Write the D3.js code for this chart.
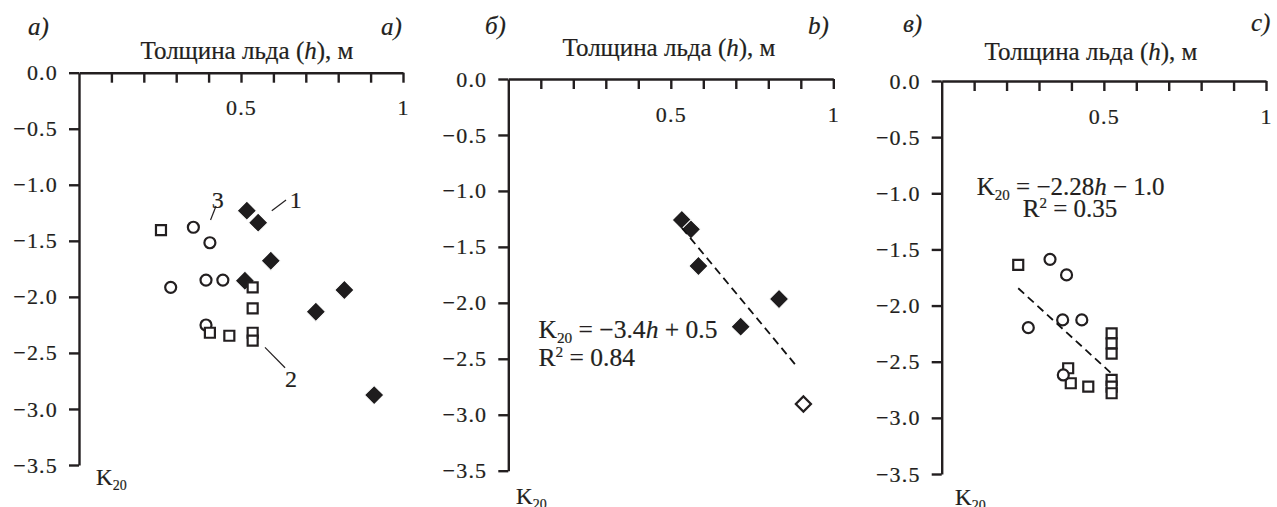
<!DOCTYPE html>
<html><head><meta charset="utf-8">
<script src="https://cdn.jsdelivr.net/npm/d3@7"></script>
<style>
html,body{margin:0;padding:0;background:#fff;}
svg text{font-family:"Liberation Serif","Times New Roman",serif;fill:#231f20;stroke:#231f20;stroke-width:0.2px;}
</style></head>
<body><svg id="c" width="1277" height="507"></svg>
<script>
// ---- data ----
const hTicks = [0.1,0.2,0.3,0.4,0.5,0.6,0.7,0.8,0.9,1.0];
const hLabels = [0.5, 1];
const kTicks = [0,-0.5,-1.0,-1.5,-2.0,-2.5,-3.0,-3.5];
const panelLeft = ["а)","б)","в)"];
const panelRight = ["a)","b)","c)"];

// panel a
const a1H = [0.518,0.553,0.592,0.512,0.819,0.731,0.911];
const a1K = [-1.231,-1.338,-1.678,-1.856,-1.939,-2.133,-2.876];
const a3H = [0.353,0.404,0.283,0.392,0.444,0.392];
const a3K = [-1.379,-1.517,-1.915,-1.850,-1.850,-2.251];
const a2H = [0.253,0.536,0.536,0.404,0.464,0.536,0.536];
const a2K = [-1.404,-1.915,-2.102,-2.320,-2.347,-2.320,-2.391];
// panel b
const b1H = [0.534,0.562,0.585,0.715,0.833];
const b1K = [-1.260,-1.343,-1.671,-2.213,-1.966];
const bOpenH = [0.908];
const bOpenK = [-2.904];
const trendBH = [0.534,0.890];
const trendBK = [-1.330,-2.576];
// panel c
const c2H = [0.236,0.524,0.524,0.524,0.524,0.524,0.524,0.390,0.398,0.452];
const c2K = [-1.638,-2.247,-2.336,-2.428,-2.662,-2.722,-2.781,-2.558,-2.692,-2.722];
const c3H = [0.334,0.385,0.267,0.373,0.432,0.375];
const c3K = [-1.588,-1.727,-2.197,-2.128,-2.128,-2.618];
const trendCH = [0.236,0.521];
const trendCK = [-1.846,-2.598];

const zip = (h,k) => h.map((v,i)=>({h:v,k:k[i]}));

// ---- layout ----
const svg = d3.select("#c");
const panels = [
  {x0:79, x1:403, y0:72.7, y1:465, titleX:247, titleY:59, lx:28, ly:35, rx:381, ry:35, kx:96, ky:485},
  {x0:508.3, x1:833.3, y0:79, y1:470.7, titleX:669, titleY:56, lx:485, ly:34, rx:808, ry:34, kx:516, ky:504},
  {x0:941.7, x1:1266, y0:81, y1:474, titleX:1091, titleY:60, lx:903, ly:32, rx:1251, ry:31, kx:955, ky:505}
];
const ink = "#231f20";

function drawPanel(p, i){
  const g = svg.append("g");
  const x = d3.scaleLinear().domain([0,1]).range([p.x0,p.x1]);
  const y = d3.scaleLinear().domain([0,-3.5]).range([p.y0,p.y1]);
  const ya = g.append("g").attr("transform",`translate(${p.x0},0)`)
    .call(d3.axisLeft(y).tickValues(kTicks).tickSize(10).tickSizeOuter(0).tickPadding(11).tickFormat(d3.format(".1f")));
  const xa = g.append("g").attr("transform",`translate(0,${p.y0})`)
    .call(d3.axisBottom(x).tickValues(hTicks).tickSize(10).tickSizeOuter(0).tickPadding(17)
      .tickFormat(d => hLabels.some(v=>Math.abs(v-d)<1e-9) ? (d===1?"1":d3.format(".1f")(d)) : ""));
  [ya,xa].forEach(a=>{
    a.attr("font-family",null).attr("font-size",null);
    a.selectAll("path.domain").attr("stroke",ink).attr("stroke-width",2.4);
    a.selectAll(".tick line").attr("stroke",ink).attr("stroke-width",2.4);
    a.selectAll(".tick text").attr("font-size",22).attr("fill",ink).attr("letter-spacing",1.2);
  });
  const t = g.append("text").attr("x",p.titleX).attr("y",p.titleY).attr("text-anchor","middle").attr("font-size",25);
  t.append("tspan").text("Толщина льда (");
  t.append("tspan").attr("font-style","italic").text("h");
  t.append("tspan").text("), м");
  g.append("text").attr("x",p.lx).attr("y",p.ly).attr("font-size",25).attr("font-style","italic").text(panelLeft[i]);
  g.append("text").attr("x",p.rx).attr("y",p.ry).attr("font-size",25).attr("font-style","italic").text(panelRight[i]);
  const kl = g.append("text").attr("x",p.kx).attr("y",p.ky).attr("font-size",23);
  kl.append("tspan").text("K");
  kl.append("tspan").attr("font-size",14).attr("dy",5).text("20");
  return {g,x,y};
}

const sqSym = d3.symbol().type(d3.symbolSquare).size(100);
const ciSym = d3.symbol().type(d3.symbolCircle).size(95);
const diSym = d3.symbol().type(d3.symbolSquare).size(185);
const odSym = d3.symbol().type(d3.symbolSquare).size(115);

function diamonds(P, data, filled){
  P.g.append("g").selectAll("path").data(data).join("path")
    .attr("d",filled?diSym:odSym).attr("transform",d=>`translate(${P.x(d.h)},${P.y(d.k)}) rotate(45)`)
    .attr("fill",filled?"#1e1c1d":"#fff").attr("stroke",filled?"#fff":ink).attr("stroke-width",filled?1:2.2);
}
function squares(P, data){
  P.g.append("g").selectAll("path").data(data).join("path")
    .attr("d",sqSym).attr("transform",d=>`translate(${P.x(d.h)},${P.y(d.k)})`)
    .attr("fill","#fff").attr("stroke",ink).attr("stroke-width",2.2);
}
function circles(P, data){
  P.g.append("g").selectAll("path").data(data).join("path")
    .attr("d",ciSym).attr("transform",d=>`translate(${P.x(d.h)},${P.y(d.k)})`)
    .attr("fill","#fff").attr("stroke",ink).attr("stroke-width",2.2);
}
function trend(P, data){
  P.g.append("path").datum(data)
    .attr("d",d3.line().x(d=>P.x(d.h)).y(d=>P.y(d.k)))
    .attr("fill","none").attr("stroke","#111").attr("stroke-width",1.8).attr("stroke-dasharray","8,5");
}
function equation(P, xh, yk, parts, size){
  const t = P.g.append("text").attr("x",P.x(xh)).attr("y",P.y(yk)).attr("font-size",size);
  parts.forEach(pt=>{
    const s = t.append("tspan").text(pt.t);
    if(pt.sub){ s.attr("font-size",size*0.6).attr("dy",5); }
    if(pt.sup){ s.attr("font-size",size*0.6).attr("dy",-9); }
    if(pt.back){ s.attr("dy",pt.back); }
    if(pt.it){ s.attr("font-style","italic"); }
  });
}

// panel a
const A = drawPanel(panels[0],0);
diamonds(A, zip(a1H,a1K), true);
circles(A, zip(a3H,a3K));
squares(A, zip(a2H,a2K));
const aNotes = [
  {label:"3", th:0.428, tk:-1.207, l:[[0.406,-1.314],[0.423,-1.189]]},
  {label:"1", th:0.669, tk:-1.207, l:[[0.595,-1.231],[0.639,-1.136]]},
  {label:"2", th:0.654, tk:-2.802, l:[[0.574,-2.450],[0.636,-2.632]]}
];
aNotes.forEach(n=>{
  A.g.append("line").attr("x1",A.x(n.l[0][0])).attr("y1",A.y(n.l[0][1])).attr("x2",A.x(n.l[1][0])).attr("y2",A.y(n.l[1][1]))
    .attr("stroke",ink).attr("stroke-width",1.2);
  A.g.append("text").attr("x",A.x(n.th)).attr("y",A.y(n.tk)).attr("text-anchor","middle").attr("font-size",24).text(n.label);
});

// panel b
const B = drawPanel(panels[1],1);
diamonds(B, zip(b1H,b1K), true);
diamonds(B, zip(bOpenH,bOpenK), false);
trend(B, zip(trendBH,trendBK));
equation(B, 0.093, -2.31, [{t:"K"},{t:"20",sub:true},{t:" = −3.4",back:-5},{t:"h",it:true},{t:" + 0.5"}], 25.5);
equation(B, 0.093, -2.56, [{t:"R"},{t:"2",sup:true},{t:" = 0.84",back:9}], 25.5);

// panel c
const C = drawPanel(panels[2],2);
squares(C, zip(c2H,c2K));
circles(C, zip(c3H,c3K));
trend(C, zip(trendCH,trendCK));
equation(C, 0.108, -1.015, [{t:"K"},{t:"20",sub:true},{t:" = −2.28",back:-5},{t:"h",it:true},{t:" − 1.0"}], 25);
equation(C, 0.25, -1.21, [{t:"R"},{t:"2",sup:true},{t:" = 0.35",back:9}], 25);
</script></body></html>
